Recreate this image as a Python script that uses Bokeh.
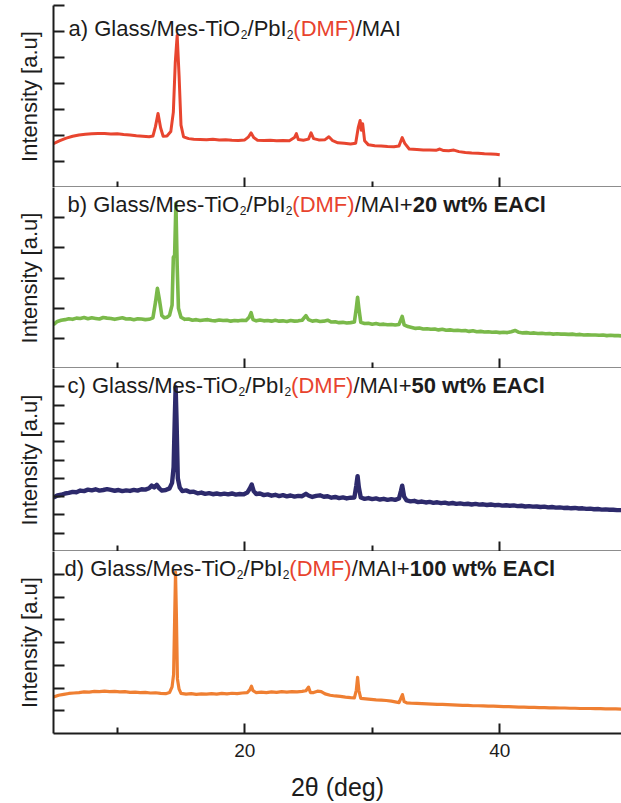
from bokeh.plotting import figure
from bokeh.layouts import column
from bokeh.models import FixedTicker, Range1d
from bokeh.core.properties import value
from bokeh.embed import file_html
from bokeh.resources import INLINE

# ---- XRD patterns (2-theta in degrees, intensity in arbitrary units) ----
theta_a = [5.0, 5.5, 6.0, 6.5, 7.0, 7.5, 8.0, 8.5, 9.0, 9.5, 10.0, 10.5, 11.0, 11.5, 12.0, 12.5,
           12.8, 13.0, 13.2, 13.4, 13.6, 13.9, 14.2, 14.4, 14.55, 14.7, 14.85, 15.0, 15.2, 15.6,
           16.0, 16.5, 17.0, 17.5, 18.0, 18.5, 19.0, 19.5, 20.0, 20.3, 20.5, 20.7, 21.0, 21.5,
           22.0, 22.5, 23.0, 23.5, 23.9, 24.05, 24.2, 24.6, 25.0, 25.2, 25.4, 25.8, 26.3, 26.6,
           26.9, 27.3, 27.8, 28.3, 28.7, 28.9, 29.05, 29.15, 29.25, 29.4, 29.7, 30.2, 30.7, 31.2,
           31.7, 32.1, 32.35, 32.55, 32.9, 33.5, 34.0, 34.5, 35.0, 35.3, 35.6, 36.0, 36.4, 36.8,
           37.3, 37.8, 38.3, 38.8, 39.3, 39.7, 40.0]
inten_a = [1.69, 1.80, 1.90, 1.97, 2.02, 2.05, 2.07, 2.08, 2.08, 2.06, 2.07, 2.04, 2.02, 1.99, 1.97, 1.95,
           1.98, 2.35, 2.85, 2.30, 1.97, 1.98, 2.15, 2.90, 4.80, 5.85, 4.30, 2.40, 1.95, 1.88,
           1.86, 1.85, 1.84, 1.86, 1.83, 1.84, 1.82, 1.81, 1.83, 1.95, 2.10, 1.92, 1.82, 1.81,
           1.82, 1.80, 1.81, 1.80, 1.92, 2.07, 1.85, 1.82, 1.86, 2.10, 1.88, 1.83, 1.84, 1.95,
           1.80, 1.72, 1.70, 1.67, 1.70, 2.30, 2.58, 2.20, 2.45, 1.80, 1.64, 1.61, 1.60, 1.58,
           1.57, 1.60, 1.92, 1.70, 1.48, 1.46, 1.44, 1.44, 1.43, 1.48, 1.42, 1.41, 1.44, 1.38,
           1.35, 1.33, 1.32, 1.30, 1.29, 1.28, 1.26]

# (2-theta, intensity) readings for the 20 wt% EACl film
scan_b = [(5.0, 1.45), (5.3, 1.56), (5.6, 1.60), (5.9, 1.62), (6.2, 1.65), (6.5, 1.63), (6.8, 1.67),
          (7.1, 1.66), (7.4, 1.69), (7.7, 1.65), (8.0, 1.68), (8.3, 1.66), (8.6, 1.64), (8.9, 1.69),
          (9.2, 1.67), (9.5, 1.66), (9.8, 1.63), (10.1, 1.66), (10.4, 1.68), (10.7, 1.64), (11.0, 1.65),
          (11.3, 1.62), (11.6, 1.65), (11.9, 1.64), (12.2, 1.62), (12.5, 1.63), (12.8, 1.68), (13.0, 2.20),
          (13.15, 2.66), (13.3, 2.30), (13.5, 1.75), (13.7, 1.68), (13.9, 1.70), (14.1, 1.76), (14.3, 2.10),
          (14.4, 3.69), (14.5, 3.75), (14.6, 5.48), (14.7, 3.40), (14.8, 2.00), (15.0, 1.70), (15.3, 1.63),
          (15.6, 1.64), (15.9, 1.60), (16.2, 1.62), (16.5, 1.59), (16.8, 1.61), (17.1, 1.62), (17.4, 1.59),
          (17.7, 1.58), (18.0, 1.61), (18.3, 1.59), (18.6, 1.60), (18.9, 1.57), (19.2, 1.59), (19.5, 1.58),
          (19.8, 1.60), (20.1, 1.59), (20.35, 1.70), (20.5, 1.85), (20.65, 1.62), (20.9, 1.58), (21.2, 1.61),
          (21.5, 1.58), (21.8, 1.59), (22.1, 1.57), (22.4, 1.60), (22.7, 1.57), (23.0, 1.58), (23.3, 1.56),
          (23.6, 1.59), (23.9, 1.57), (24.2, 1.58), (24.5, 1.60), (24.8, 1.75), (25.0, 1.62), (25.3, 1.57),
          (25.6, 1.59), (25.9, 1.56), (26.2, 1.57), (26.5, 1.60), (26.8, 1.54), (27.1, 1.55), (27.4, 1.52),
          (27.7, 1.53), (28.0, 1.51), (28.3, 1.52), (28.6, 1.54), (28.75, 2.00), (28.85, 2.36), (28.95, 2.00),
          (29.1, 1.53), (29.4, 1.49), (29.7, 1.50), (30.0, 1.47), (30.3, 1.49), (30.6, 1.46), (30.9, 1.47),
          (31.2, 1.45), (31.5, 1.46), (31.8, 1.44), (32.1, 1.46), (32.25, 1.62), (32.35, 1.73), (32.5, 1.45),
          (32.8, 1.39), (33.1, 1.36), (33.4, 1.33), (33.7, 1.34), (34.0, 1.31), (34.3, 1.32), (34.6, 1.30),
          (34.9, 1.31), (35.2, 1.28), (35.5, 1.30), (35.8, 1.27), (36.1, 1.28), (36.4, 1.26), (36.7, 1.27),
          (37.0, 1.25), (37.3, 1.26), (37.6, 1.23), (37.9, 1.25), (38.2, 1.22), (38.5, 1.23), (38.8, 1.21),
          (39.1, 1.22), (39.4, 1.20), (39.7, 1.21), (40.0, 1.19), (40.3, 1.20), (40.6, 1.19), (40.9, 1.22),
          (41.2, 1.26), (41.5, 1.20), (41.8, 1.18), (42.1, 1.19), (42.4, 1.17), (42.7, 1.18), (43.0, 1.16),
          (43.3, 1.17), (43.6, 1.15), (43.9, 1.16), (44.2, 1.14), (44.5, 1.15), (44.8, 1.14), (45.1, 1.14),
          (45.4, 1.13), (45.7, 1.14), (46.0, 1.12), (46.3, 1.13), (46.6, 1.11), (46.9, 1.12), (47.2, 1.11),
          (47.5, 1.11), (47.8, 1.10), (48.1, 1.11), (48.4, 1.09), (48.7, 1.10), (49.0, 1.09), (49.3, 1.09),
          (49.55, 1.08)]

# (2-theta, intensity) readings for the 50 wt% EACl film
scan_c = [(5.0, 2.95), (5.3, 3.06), (5.6, 3.10), (5.9, 3.17), (6.2, 3.20), (6.5, 3.26), (6.8, 3.24),
          (7.1, 3.33), (7.4, 3.30), (7.7, 3.38), (8.0, 3.34), (8.3, 3.40), (8.6, 3.33), (8.9, 3.36),
          (9.2, 3.41), (9.5, 3.37), (9.8, 3.32), (10.1, 3.36), (10.4, 3.30), (10.7, 3.34), (11.0, 3.31),
          (11.3, 3.37), (11.6, 3.33), (11.9, 3.40), (12.2, 3.38), (12.5, 3.46), (12.7, 3.60), (12.9, 3.50),
          (13.1, 3.64), (13.3, 3.45), (13.5, 3.33), (13.8, 3.36), (14.1, 3.45), (14.3, 3.75), (14.42, 4.60),
          (14.52, 7.50), (14.58, 8.98), (14.65, 7.20), (14.75, 4.00), (14.9, 3.50), (15.1, 3.30), (15.4, 3.34),
          (15.7, 3.25), (16.0, 3.27), (16.3, 3.18), (16.6, 3.22), (16.9, 3.15), (17.2, 3.19), (17.5, 3.13),
          (17.8, 3.17), (18.1, 3.12), (18.4, 3.16), (18.7, 3.12), (19.0, 3.17), (19.3, 3.11), (19.6, 3.14),
          (19.9, 3.12), (20.2, 3.22), (20.4, 3.45), (20.55, 3.66), (20.7, 3.30), (20.9, 3.14), (21.2, 3.17),
          (21.5, 3.08), (21.8, 3.12), (22.1, 3.05), (22.4, 3.10), (22.7, 3.03), (23.0, 3.08), (23.3, 3.01),
          (23.6, 3.06), (23.9, 3.00), (24.2, 3.04), (24.5, 3.02), (24.8, 3.15), (25.0, 3.06), (25.3, 2.98),
          (25.6, 3.04), (25.9, 3.07), (26.2, 2.99), (26.5, 3.02), (26.8, 2.94), (27.1, 2.98), (27.4, 2.92),
          (27.7, 2.96), (28.0, 2.90), (28.3, 2.94), (28.6, 2.95), (28.75, 3.60), (28.85, 4.12), (28.95, 3.50),
          (29.1, 2.95), (29.4, 2.88), (29.7, 2.92), (30.0, 2.86), (30.3, 2.90), (30.6, 2.84), (30.9, 2.88),
          (31.2, 2.82), (31.5, 2.86), (31.8, 2.82), (32.1, 2.90), (32.25, 3.30), (32.35, 3.60), (32.5, 3.00),
          (32.7, 2.79), (33.0, 2.74), (33.3, 2.77), (33.6, 2.70), (33.9, 2.73), (34.2, 2.68), (34.5, 2.71),
          (34.8, 2.66), (35.1, 2.69), (35.4, 2.64), (35.7, 2.67), (36.0, 2.62), (36.3, 2.65), (36.6, 2.60),
          (36.9, 2.63), (37.2, 2.59), (37.5, 2.61), (37.8, 2.57), (38.1, 2.60), (38.4, 2.56), (38.7, 2.58),
          (39.0, 2.54), (39.3, 2.57), (39.6, 2.53), (39.9, 2.55), (40.2, 2.51), (40.5, 2.53), (40.8, 2.50),
          (41.1, 2.52), (41.4, 2.48), (41.7, 2.50), (42.0, 2.46), (42.3, 2.48), (42.6, 2.45), (42.9, 2.46),
          (43.2, 2.43), (43.5, 2.45), (43.8, 2.41), (44.1, 2.43), (44.4, 2.40), (44.7, 2.41), (45.0, 2.38),
          (45.3, 2.39), (45.6, 2.36), (45.9, 2.38), (46.2, 2.35), (46.5, 2.36), (46.8, 2.33), (47.1, 2.34),
          (47.4, 2.31), (47.7, 2.32), (48.0, 2.29), (48.3, 2.30), (48.6, 2.28), (48.9, 2.28), (49.2, 2.26),
          (49.55, 2.26)]

theta_d = [5.0, 5.4, 5.8, 6.2, 6.6, 7.0, 7.4, 7.8, 8.2, 8.6, 9.0, 9.4, 9.8, 10.2, 10.6, 11.0,
           11.4, 11.8, 12.2, 12.6, 13.0, 13.4, 13.8, 14.1, 14.3, 14.42, 14.5, 14.57, 14.64, 14.72,
           14.85, 15.0, 15.4, 15.8, 16.2, 16.6, 17.0, 17.4, 17.8, 18.2, 18.6, 19.0, 19.4, 19.8,
           20.2, 20.4, 20.53, 20.65, 20.9, 21.3, 21.7, 22.1, 22.5, 22.9, 23.3, 23.7, 24.1, 24.5,
           24.8, 25.0, 25.15, 25.4, 25.7, 26.0, 26.3, 26.7, 27.1, 27.5, 27.9, 28.3, 28.6, 28.75,
           28.85, 28.95, 29.1, 29.5, 29.9, 30.3, 30.7, 31.1, 31.5, 31.9, 32.1, 32.25, 32.37, 32.5,
           32.7, 33.1, 33.5, 33.9, 34.3, 34.7, 35.1, 35.5, 35.9, 36.3, 36.7, 37.1, 37.5, 37.9,
           38.3, 38.7, 39.1, 39.5, 39.9, 40.3, 40.7, 41.1, 41.5, 41.9, 42.3, 42.7, 43.1, 43.5,
           43.9, 44.3, 44.7, 45.1, 45.5, 45.9, 46.3, 46.7, 47.1, 47.5, 47.9, 48.3, 48.7, 49.1,
           49.55]
inten_d = [1.60, 1.68, 1.72, 1.76, 1.78, 1.80, 1.83, 1.82, 1.85, 1.84, 1.86, 1.84, 1.85, 1.83, 1.84, 1.81,
           1.82, 1.80, 1.81, 1.78, 1.79, 1.76, 1.75, 1.80, 2.05, 2.60, 5.00, 7.09, 5.20, 2.40,
           1.95, 1.76, 1.73, 1.75, 1.72, 1.74, 1.73, 1.75, 1.73, 1.76, 1.74, 1.77, 1.75, 1.78,
           1.80, 1.92, 2.08, 1.88, 1.80, 1.82, 1.80, 1.83, 1.81, 1.84, 1.82, 1.84, 1.83, 1.85,
           1.88, 2.04, 1.80, 1.80, 1.86, 1.84, 1.74, 1.68, 1.65, 1.63, 1.60, 1.58, 1.57, 1.90,
           2.47, 1.90, 1.54, 1.52, 1.50, 1.48, 1.47, 1.45, 1.42, 1.38, 1.36, 1.55, 1.71, 1.40,
           1.35, 1.33, 1.32, 1.31, 1.30, 1.29, 1.28, 1.28, 1.27, 1.26, 1.25, 1.24, 1.24, 1.22,
           1.22, 1.21, 1.20, 1.20, 1.19, 1.18, 1.18, 1.17, 1.16, 1.16, 1.15, 1.15, 1.14, 1.14,
           1.13, 1.13, 1.12, 1.12, 1.11, 1.11, 1.10, 1.10, 1.10, 1.09, 1.09, 1.08, 1.08, 1.08,
           1.07]

# panel captions: letter and EACl loading (None = no additive)
letters = ["a)", "b)", "c)", "d)"]
additives = [None, "20 wt% EACl", "50 wt% EACl", "100 wt% EACl"]
colors = ["#E8452F", "#7AB94A", "#2D2A6C", "#EF7F32"]
y_max = [7, 6, 10, 8]
y_ticks = [[1, 2, 3, 4, 5, 6, 7], [1, 2, 3, 4, 5], [1, 2, 3, 4, 5, 6, 7, 8, 9], [1, 2, 3, 4, 5, 6, 7]]
x_major = [20, 40]
x_minor = [10, 30]
x_label = "2\u03b8 (deg)"
y_label = "Intensity [a.u]"

FONT = "Liberation Sans"
INK = "#1c1c1c"
DMF_RED = "#E8432E"

# Arial-compatible advance widths (1/1000 em) used to lay out caption pieces
W_REG = {"a": 556, "b": 556, "c": 500, "d": 556, ")": 333, "(": 333, " ": 278, "G": 778, "l": 222,
         "s": 500, "/": 278, "M": 833, "e": 556, "-": 333, "T": 611, "i": 222, "O": 778, "2": 556,
         "P": 667, "I": 278, "D": 722, "F": 611, "A": 667, "+": 584}
W_BOLD = {"0": 556, "1": 556, "2": 556, "5": 556, " ": 278, "w": 778, "t": 333, "%": 889,
          "E": 667, "A": 722, "C": 722, "l": 278}


def text_w(s, size, bold=False):
    table = W_BOLD if bold else W_REG
    return sum(table.get(ch, 556) for ch in s) * size / 1000.0


def add_caption(p, letter, additive, x0, base, size=22, sub=12, sub_drop=6):
    pieces = [
        (letter + " Glass/Mes-TiO", size, 0, INK, "normal"),
        ("2", sub, sub_drop, INK, "normal"),
        ("/PbI", size, 0, INK, "normal"),
        ("2", sub, sub_drop, INK, "normal"),
        ("(DMF)", size, 0, DMF_RED, "normal"),
        ("/MAI", size, 0, INK, "normal"),
    ]
    if additive:
        pieces.append(("+", size, 0, INK, "normal"))
        pieces.append((additive, size, 0, INK, "bold"))
    x = x0
    for txt, fs, drop, col, style in pieces:
        p.text(x=[p.x_range.start], y=[p.y_range.end], text=[txt],
               x_offset=x, y_offset=base + drop,
               text_font=value(FONT), text_font_size=value(f"{fs}px"),
               text_font_style=style, text_color=col,
               text_align="left", text_baseline="alphabetic")
        x += text_w(txt, fs, style == "bold")


thetas = [theta_a, [t for t, _ in scan_b], [t for t, _ in scan_c], theta_d]
intens = [inten_a, [v for _, v in scan_b], [v for _, v in scan_c], inten_d]
heights = [187, 181, 183, 252]
tops = [5, 0, 0, 0]
bottoms = [0, 0, 0, 70]
caption_x = [15, 14, 14, 11]
caption_base = [23, 17, 17, 17]
line_w = [3.0, 3.6, 4.4, 3.2]

panels = []
for i in range(4):
    last = i == 3
    p = figure(width=621, height=heights[i], x_range=Range1d(5, 49.55), y_range=Range1d(0, y_max[i]),
               output_backend="svg", toolbar_location=None,
               min_border_left=53, min_border_right=0, min_border_top=tops[i],
               min_border_bottom=bottoms[i])
    p.outline_line_color = None
    p.grid.visible = False
    p.background_fill_color = "white"
    p.border_fill_color = "white"

    p.line(thetas[i], intens[i], line_color=colors[i], line_width=line_w[i], line_join="round")

    ya = p.yaxis[0]
    ya.ticker = FixedTicker(ticks=y_ticks[i], minor_ticks=[])
    ya.major_tick_in = 11
    ya.major_tick_out = 0
    ya.minor_tick_in = 0
    ya.minor_tick_out = 0
    ya.major_tick_line_width = 2
    ya.major_tick_line_color = INK
    ya.axis_line_width = 2
    ya.axis_line_color = INK
    # intensity axis carries no numbers
    ya.major_label_text_font_size = "0px"
    ya.major_label_text_color = None
    ya.major_label_standoff = 0
    ya.axis_label = y_label
    ya.axis_label_text_font = FONT
    ya.axis_label_text_font_size = "22px"
    ya.axis_label_text_font_style = "normal"
    ya.axis_label_text_color = INK
    ya.axis_label_standoff = 12

    xa = p.xaxis[0]
    xa.ticker = FixedTicker(ticks=x_major, minor_ticks=x_minor)
    xa.major_tick_in = 10
    xa.major_tick_out = 0
    xa.minor_tick_in = 6
    xa.minor_tick_out = 0
    xa.major_tick_line_width = 2
    xa.minor_tick_line_width = 2
    xa.major_tick_line_color = INK
    xa.minor_tick_line_color = INK
    xa.axis_line_width = 2
    xa.axis_line_color = INK
    if last:
        xa.major_label_text_font = FONT
        xa.major_label_text_font_size = "19px"
        xa.major_label_text_color = INK
        xa.major_label_standoff = 10
        xa.axis_label = x_label
        xa.axis_label_text_font = FONT
        xa.axis_label_text_font_size = "25px"
        xa.axis_label_text_font_style = "normal"
        xa.axis_label_text_color = INK
        xa.axis_label_standoff = 13
    else:
        xa.major_label_text_font_size = "0px"
        xa.major_label_text_color = None
        xa.major_label_standoff = 0

    add_caption(p, letters[i], additives[i], caption_x[i], caption_base[i])
    panels.append(p)

layout = column(*panels, spacing=0)
open("out.html", "w").write(file_html(layout, INLINE))
